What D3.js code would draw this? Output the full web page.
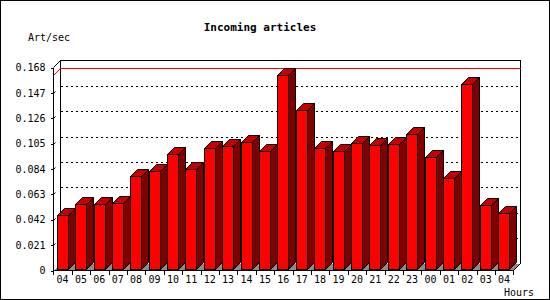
<!DOCTYPE html>
<html>
<head>
<meta charset="utf-8">
<script src="https://cdn.jsdelivr.net/npm/d3@7"></script>
<style>
  body { margin: 0; background: #fff; }
  svg { display: block; }
  text { font-family: "DejaVu Sans Mono", "Liberation Mono", monospace; fill: #000; }
</style>
</head>
<body>
<div id="chart"></div>
<script>
// hourly incoming article rate
const hours = ["04","05","06","07","08","09","10","11","12","13","14","15","16",
               "17","18","19","20","21","22","23","00","01","02","03","04"];
const rates = [0.0463, 0.0552, 0.0552, 0.0560, 0.0778, 0.0822, 0.0966, 0.0836, 0.1015,
               0.1032, 0.1065, 0.0993, 0.1622, 0.1330, 0.1015, 0.0985, 0.1057, 0.1040,
               0.1048, 0.1131, 0.0943, 0.0767, 0.1545, 0.0544, 0.0474];
const yTicks = [0, 0.021, 0.042, 0.063, 0.084, 0.105, 0.126, 0.147, 0.168];

const W = 550, H = 300;
const D = 7; // 3d depth
const pLeft = 53.5, pRight = 513.5, pBottom = 270.5, pTop = 67.5;

const svg = d3.select("#chart").append("svg")
    .attr("width", W).attr("height", H)
    .attr("shape-rendering", "crispEdges");

// outer frame
svg.append("rect")
    .attr("x", 0.5).attr("y", 0.5).attr("width", W - 1).attr("height", H - 1.5)
    .attr("fill", "#fff").attr("stroke", "#000");

let x = d3.scaleBand().domain(d3.range(hours.length)).range([pLeft - 0.2, pRight - 0.2]);
let y = d3.scaleLinear().domain([0, 0.168]).range([pBottom, pTop]);

// floor
svg.append("polygon")
    .attr("points", [[pLeft, pBottom], [pRight, pBottom], [pRight + D, pBottom - D], [pLeft + D, pBottom - D]].join(" "))
    .attr("fill", "#8c8c8c").attr("stroke", "none");

// back wall grid
yTicks.filter(v => v > 0 && v < 0.168).forEach(v => {
    let yy = Math.round(y(v)) + 0.5;
    svg.append("line")
        .attr("x1", pLeft + D).attr("x2", pRight + D)
        .attr("y1", yy - D).attr("y2", yy - D)
        .attr("stroke", "#000").attr("stroke-dasharray", "2,3");
    svg.append("line")
        .attr("x1", pLeft).attr("y1", yy).attr("x2", pLeft + 2).attr("y2", yy - 2)
        .attr("stroke", "#000").attr("shape-rendering", "auto");
});

// back box
svg.append("path")
    .attr("d", `M${pLeft + D},${pBottom - D}V${pTop - D}H${pRight + D}V${pBottom - D}`)
    .attr("fill", "none").attr("stroke", "#000");
svg.append("line")
    .attr("x1", pLeft).attr("y1", pTop).attr("x2", pLeft + D).attr("y2", pTop - D)
    .attr("stroke", "#000").attr("shape-rendering", "auto");

// max line
let maxY = Math.round(y(d3.max(rates))) + 0.5;
svg.append("line")
    .attr("x1", pLeft + D).attr("x2", pRight + D).attr("y1", maxY - D).attr("y2", maxY - D)
    .attr("stroke", "#ff0000");
svg.append("line")
    .attr("x1", pLeft).attr("y1", maxY).attr("x2", pLeft + D).attr("y2", maxY - D)
    .attr("stroke", "#ff0000").attr("shape-rendering", "auto");

// bars
const bars = svg.append("g").selectAll("g")
    .data(rates)
    .enter().append("g");

bars.each(function(v, i) {
    let g = d3.select(this);
    let L = Math.round(x(i) + 3.4) + 0.5, R = L + 11;
    let T = Math.round(y(v)) + 0.5, B = pBottom - 1;
    g.append("polygon")
        .attr("points", [[R, B], [R + D, B - D], [R + D, T - D], [R, T]].join(" "))
        .attr("fill", "#800000").attr("stroke", "#000").attr("shape-rendering", "auto");
    g.append("polygon")
        .attr("points", [[L, T], [L + D, T - D], [R + D, T - D], [R, T]].join(" "))
        .attr("fill", "#c40000").attr("stroke", "#000").attr("shape-rendering", "auto");
    g.append("rect")
        .attr("x", L).attr("y", T).attr("width", R - L).attr("height", B - T)
        .attr("fill", "#ff0000").attr("stroke", "#000");
});

// front axes
svg.append("path")
    .attr("d", `M${pLeft},${pTop}V${pBottom}H${pRight}`)
    .attr("fill", "none").attr("stroke", "#000");
svg.append("line")
    .attr("x1", pRight).attr("y1", pBottom).attr("x2", pRight + D).attr("y2", pBottom - D)
    .attr("stroke", "#000").attr("shape-rendering", "auto");

// y axis
let yAxis = svg.append("g")
    .attr("transform", `translate(${pLeft},0)`)
    .call(d3.axisLeft(y).tickValues(yTicks).tickSize(3).tickPadding(5)
        .tickFormat(d => d === 0 ? "0" : d.toFixed(3)));
yAxis.select(".domain").remove();
yAxis.selectAll("line").attr("stroke", "#000");
yAxis.selectAll("text").attr("font-size", 10).attr("font-family", "DejaVu Sans Mono");

// x ticks at slot edges
svg.append("g").selectAll("line")
    .data(d3.range(hours.length + 1))
    .enter().append("line")
    .attr("x1", i => Math.round(pLeft - 0.2 + i * x.step()) + 0.5)
    .attr("x2", i => Math.round(pLeft - 0.2 + i * x.step()) + 0.5)
    .attr("y1", pBottom).attr("y2", pBottom + 4)
    .attr("stroke", "#000");

let xAxis = svg.append("g")
    .attr("transform", `translate(0,${pBottom})`)
    .call(d3.axisBottom(x).tickSize(0).tickPadding(5).tickFormat(i => hours[i]));
xAxis.select(".domain").remove();
xAxis.selectAll("text").attr("font-size", 10).attr("font-family", "DejaVu Sans Mono");

// titles
svg.append("text")
    .attr("x", 260).attr("y", 27).attr("dy", "0.35em")
    .attr("text-anchor", "middle").attr("font-size", 11).attr("font-weight", "bold")
    .text("Incoming articles");
svg.append("text")
    .attr("x", 28).attr("y", 37).attr("dy", "0.35em")
    .attr("font-size", 10)
    .text("Art/sec");
svg.append("text")
    .attr("x", 504).attr("y", 292).attr("dy", "0.35em")
    .attr("font-size", 10)
    .text("Hours");
</script>
</body>
</html>
